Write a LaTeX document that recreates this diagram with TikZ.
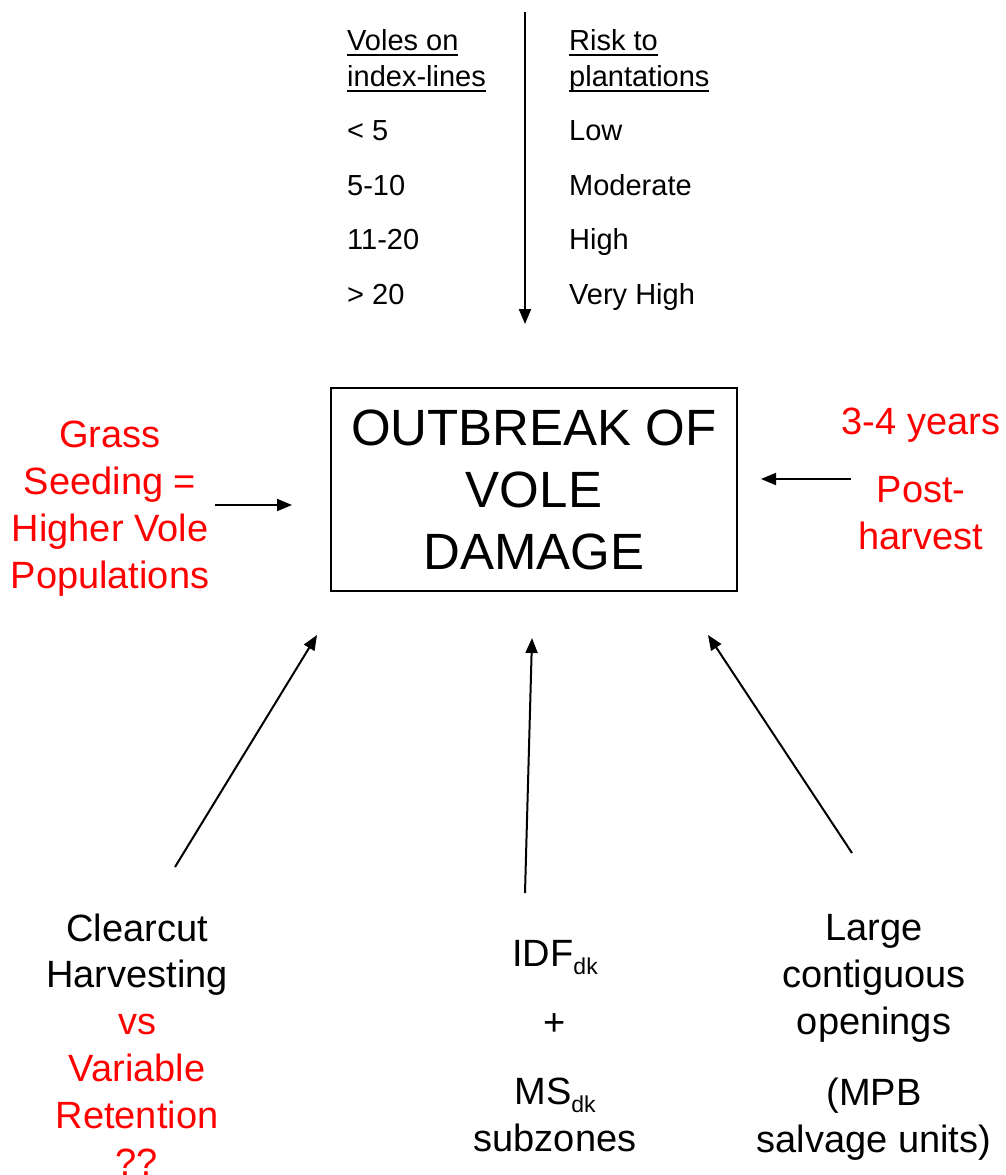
\documentclass[tikz,border=0pt]{standalone}
\usepackage{fontspec}
\setmainfont{Liberation Sans}
\usepackage{xcolor}
\usepackage{tikz}
\usetikzlibrary{arrows.meta,positioning}

\newcommand{\hdrline}[1]{\setbox0=\hbox{#1}\rlap{\rule[-5.5pt]{\wd0}{2pt}}\box0}
\newcommand{\zonesub}[1]{\raisebox{-8pt}{\fontsize{23}{23}\selectfont #1}}

\tikzset{
  rowtxt/.style={font=\fontsize{29}{36}\selectfont, inner sep=0pt, anchor=base west, align=left},
  lbl/.style={font=\fontsize{38}{47}\selectfont, inner sep=0pt, anchor=base, align=center},
  redlbl/.style={lbl, text=red},
  link/.style={-{Triangle[length=15pt,width=12pt]}, line width=2pt},
}

\begin{document}
\begin{tikzpicture}[x=1pt,y=-1pt]
  \useasboundingbox (0,0) rectangle (1006,1175);

  % risk table (base = last line)
  \node[rowtxt] (hVoles) at (347,86) {\hdrline{Voles on}\\\hdrline{index-lines}};
  \node[rowtxt] (hRisk) at (569,86) {\hdrline{Risk to}\\\hdrline{plantations}};
  \node[rowtxt] (v_1) at (347,140) {< 5};
  \node[rowtxt] (v_2) at (347,195) {5-10};
  \node[rowtxt] (v_3) at (347,249) {11-20};
  \node[rowtxt] (v_4) at (347,304) {> 20};
  \node[rowtxt] (r_1) at (569,140) {Low};
  \node[rowtxt] (r_2) at (569,195) {Moderate};
  \node[rowtxt] (r_3) at (569,249) {High};
  \node[rowtxt] (r_4) at (569,304) {Very High};

  % outbreak box
  \node[draw, line width=1.8pt, minimum width=406, minimum height=203, inner sep=0pt,
        font=\fontsize{51}{62}\selectfont, align=center] (outbreak) at (534,489.5)
        {OUTBREAK OF\\VOLE\\DAMAGE};

  % causes
  \node[redlbl] (grass) at (110,588) {Grass\\Seeding =\\Higher Vole\\Populations};
  \node[redlbl] (years) at (921,549) {3-4 years\\[21pt]Post-\\harvest};
  \node[lbl, font=\fontsize{38}{46.8}\selectfont] (clearcut) at (137,1175)
        {Clearcut\\Harvesting\\{\color{red}vs}\\{\color{red}Variable}\\{\color{red}Retention}\\{\color{red}??}};
  \node[lbl] (zones) at (555,1151) {IDF\zonesub{dk}\\[22pt]+\\[22pt]MS\zonesub{dk}\\subzones};
  \node[lbl] (openings) at (874,1152) {Large\\contiguous\\openings\\[24pt](MPB\\salvage units)};

  % arrow ends
  \coordinate (tableTop) at (525,12);
  \coordinate (tableEnd) at (525,324);
  \coordinate (grassTail) at (215,505);
  \coordinate (grassTip) at (292,505);
  \coordinate (yearsTail) at (851,479);
  \coordinate (yearsTip) at (761,479);
  \coordinate (cutTail) at (175,867);
  \coordinate (cutTip) at (317,635);
  \coordinate (zoneTail) at (525,893);
  \coordinate (zoneTip) at (532,638);
  \coordinate (openTail) at (852,853);
  \coordinate (openTip) at (708,635);

  \path[link]
    (tableTop) edge (tableEnd)
    (grassTail) edge (grassTip)
    (yearsTail) edge (yearsTip)
    (cutTail) edge (cutTip)
    (zoneTail) edge (zoneTip)
    (openTail) edge (openTip);
\end{tikzpicture}
\end{document}
